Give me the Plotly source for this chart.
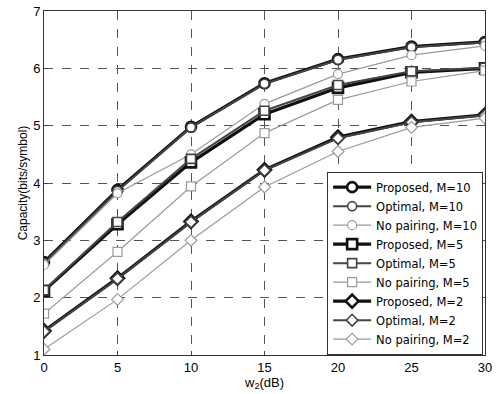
import plotly.graph_objects as go

w2_db = [0, 5, 10, 15, 20, 25, 30]

proposed_m10 = [2.62, 3.88, 4.98, 5.74, 6.16, 6.38, 6.46]
optimal_m10 = [2.60, 3.86, 4.97, 5.73, 6.15, 6.37, 6.45]
nopair_m10 = [2.57, 3.82, 4.50, 5.38, 5.90, 6.23, 6.39]
proposed_m5 = [2.12, 3.28, 4.36, 5.20, 5.66, 5.93, 6.00]
optimal_m5 = [2.13, 3.32, 4.42, 5.26, 5.71, 5.95, 6.01]
nopair_m5 = [1.72, 2.80, 3.94, 4.87, 5.45, 5.77, 5.96]
proposed_m2 = [1.42, 2.34, 3.33, 4.23, 4.80, 5.07, 5.19]
optimal_m2 = [1.41, 2.33, 3.32, 4.22, 4.78, 5.06, 5.18]
nopair_m2 = [1.10, 1.97, 3.00, 3.93, 4.55, 4.97, 5.13]

series = [
    ("Proposed, M=10", proposed_m10, "circle", "proposed"),
    ("Optimal, M=10", optimal_m10, "circle", "optimal"),
    ("No pairing, M=10", nopair_m10, "circle", "nopair"),
    ("Proposed, M=5", proposed_m5, "square", "proposed"),
    ("Optimal, M=5", optimal_m5, "square", "optimal"),
    ("No pairing, M=5", nopair_m5, "square", "nopair"),
    ("Proposed, M=2", proposed_m2, "diamond", "proposed"),
    ("Optimal, M=2", optimal_m2, "diamond", "optimal"),
    ("No pairing, M=2", nopair_m2, "diamond", "nopair"),
]

styles = {
    "proposed": dict(color="#111111", lw=3.2, mlw=2.6, size=10),
    "optimal": dict(color="#444444", lw=2.0, mlw=1.6, size=9),
    "nopair": dict(color="#9a9a9a", lw=1.2, mlw=1.2, size=9),
}

fig = go.Figure()
for name, ys, sym, kind in series:
    s = styles[kind]
    fig.add_trace(go.Scatter(
        x=w2_db, y=ys, name=name, mode="lines+markers",
        line=dict(color=s["color"], width=s["lw"]),
        marker=dict(symbol=sym, size=s["size"], color="white",
                    line=dict(color=s["color"], width=s["mlw"])),
    ))

fig.update_layout(
    width=500, height=394,
    margin=dict(l=44, r=15, t=11, b=39),
    paper_bgcolor="white", plot_bgcolor="white",
    font=dict(family="Liberation Sans, Arial, sans-serif", size=13, color="black"),
    legend=dict(
        x=0.642, y=0.267, xanchor="left", yanchor="middle",
        bgcolor="white", bordercolor="#333333", borderwidth=1,
        font=dict(size=11.5, family="DejaVu Sans, sans-serif"),
        tracegroupgap=0, itemwidth=38,
    ),
    showlegend=True,
)
fig.update_xaxes(
    range=[0, 30], tickvals=[0, 5, 10, 15, 20, 25, 30],
    showgrid=True, gridcolor="#555555", griddash="dash", gridwidth=1,
    showline=True, linecolor="#333333", linewidth=1, mirror=True,
    ticks="inside", ticklen=4, zeroline=False, automargin=False,
    title=dict(text="w<sub>2</sub>(dB)", standoff=0, font=dict(size=13)),
    tickfont=dict(size=13),
)
fig.update_yaxes(
    range=[1, 7], tickvals=[1, 2, 3, 4, 5, 6, 7],
    showgrid=True, gridcolor="#555555", griddash="dash", gridwidth=1,
    showline=True, linecolor="#333333", linewidth=1, mirror=True,
    ticks="inside", ticklen=4, zeroline=False, automargin=False,
    ticklabeloverflow="allow",
    title=dict(text="Capacity(bits/symbol)", standoff=2, font=dict(size=12)),
    tickfont=dict(size=13),
)

fig.write_html("out.html", config={"displayModeBar": False},
               post_script="document.body.style.margin='0';")
